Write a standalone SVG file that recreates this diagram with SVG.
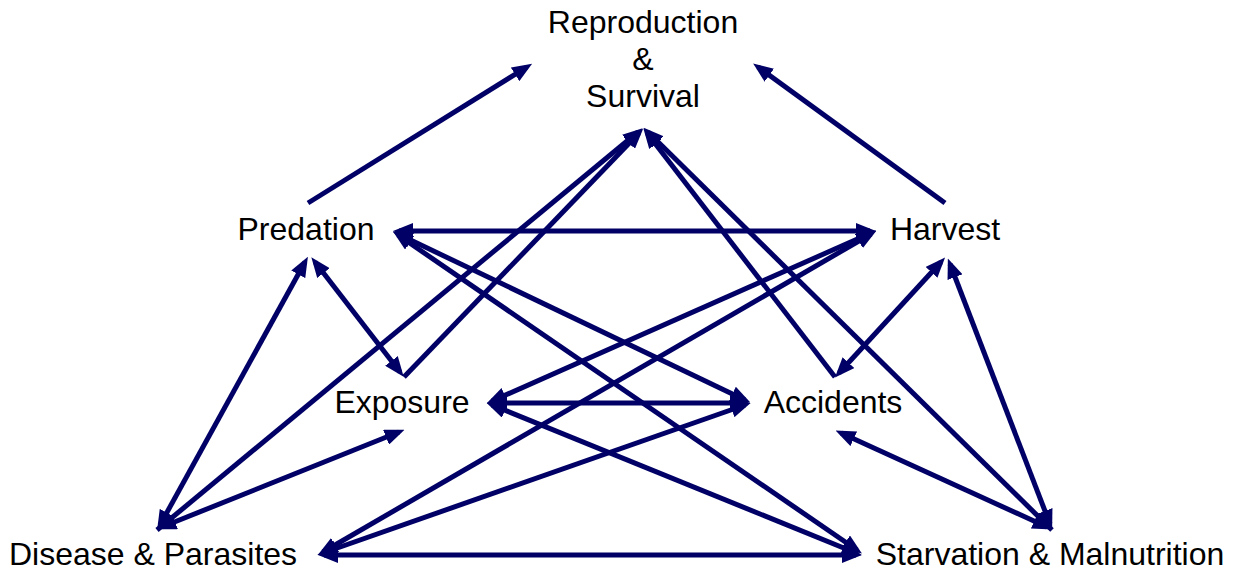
<svg xmlns="http://www.w3.org/2000/svg" width="1236" height="570" viewBox="0 0 1236 570">
<style>
text{font-family:"Liberation Sans",Arial,sans-serif;font-size:32px;fill:#000;text-anchor:middle}
.c line{stroke:#000066;stroke-width:5;fill:none}
.s{marker-end:url(#ah)}
.d{marker-start:url(#ah);marker-end:url(#ah)}
</style>
<defs>
<marker id="ah" viewBox="0 0 20 16" refX="14" refY="8" markerWidth="20" markerHeight="16" markerUnits="userSpaceOnUse" orient="auto-start-reverse">
<path d="M0,0 L20,8 L0,16 z" fill="#000066"/>
</marker>
</defs>
<rect width="1236" height="570" fill="#fff"/>
<g id="connectors" class="c">
<line class="s" x1="308" y1="203" x2="527" y2="67"/>
<line class="s" x1="945" y1="203" x2="758" y2="67"/>
<line class="d" x1="399" y1="231" x2="870" y2="231"/>
<line class="d" x1="398" y1="234" x2="745" y2="400"/>
<line class="d" x1="398" y1="235" x2="857" y2="550"/>
<line class="d" x1="493" y1="403" x2="744" y2="403"/>
<line class="d" x1="492" y1="401" x2="871" y2="233"/>
<line class="d" x1="492" y1="405" x2="856" y2="553"/>
<line class="d" x1="323" y1="552" x2="871" y2="234"/>
<line class="d" x1="323" y1="553" x2="745" y2="405"/>
<line class="d" x1="324" y1="555" x2="856" y2="555"/>
<line class="d" x1="160" y1="525" x2="305" y2="262"/>
<line class="d" x1="315" y1="262" x2="400" y2="372"/>
<line class="s" x1="404" y1="377" x2="639" y2="133"/>
<line class="s" x1="157" y1="530" x2="638" y2="132"/>
<line class="d" x1="162" y1="527" x2="399" y2="432"/>
<line class="s" x1="835" y1="377" x2="647" y2="133"/>
<line class="d" x1="941" y1="262" x2="839" y2="373"/>
<line class="s" x1="1052" y1="530" x2="648" y2="132"/>
<line class="d" x1="950" y1="264" x2="1050" y2="524"/>
<line class="d" x1="841" y1="433" x2="1047" y2="527"/>
</g>
<g id="node-reproduction"><text x="643" y="33">Reproduction</text><text x="643" y="70">&amp;</text><text x="643" y="107">Survival</text></g>
<g id="node-predation"><text x="306" y="240">Predation</text></g>
<g id="node-harvest"><text x="945" y="240">Harvest</text></g>
<g id="node-exposure"><text x="402" y="413">Exposure</text></g>
<g id="node-accidents"><text x="833" y="413">Accidents</text></g>
<g id="node-disease"><text x="153" y="565">Disease &amp; Parasites</text></g>
<g id="node-starvation"><text x="1050" y="565">Starvation &amp; Malnutrition</text></g>
</svg>
